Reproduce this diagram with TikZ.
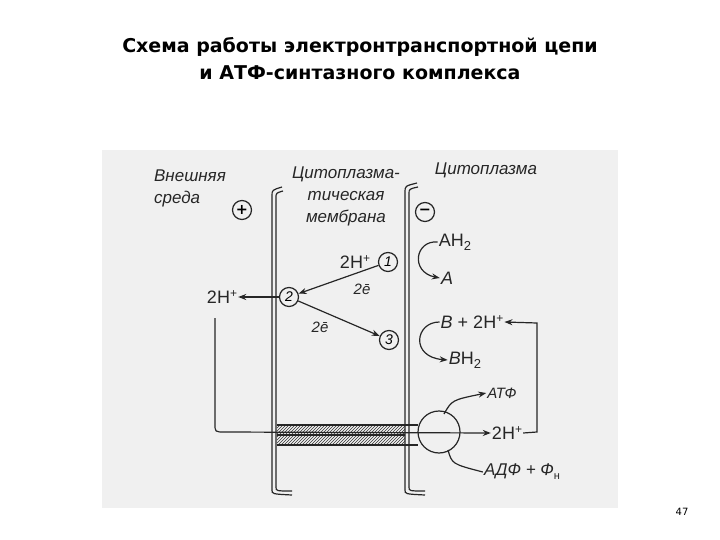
\documentclass[tikz,border=0pt]{standalone}
\usepackage{fontspec}
\setmainfont{DejaVu Sans}
\newfontfamily\lbl{Liberation Sans}
\usetikzlibrary{arrows.meta,patterns}
\newcommand{\hp}{\raisebox{6pt}{\fontsize{12}{12}\selectfont +}}
\newcommand{\sbt}{\raisebox{-4pt}{\fontsize{13}{13}\selectfont 2}}
\begin{document}
\begin{tikzpicture}[x=1pt,y=-1pt,
  ink/.style={draw=black!85,line width=1.2pt},
  arr/.style={ink,-{Stealth[length=8pt,width=6pt]}},
  lab/.style={font=\lbl\fontsize{17}{22}\selectfont\itshape,text=black!85,inner sep=1pt},
  chem/.style={font=\lbl\fontsize{18}{20}\selectfont,text=black!85,inner sep=1pt},
  ebar/.style={font=\lbl\itshape\fontsize{15}{15}\selectfont,text=black!85,inner sep=1pt},
  num/.style={circle,ink,minimum size=19pt,inner sep=0pt,font=\lbl\itshape\fontsize{14}{14}\selectfont}]
\useasboundingbox (0,0) rectangle (720,540);
\fill[white] (0,0) rectangle (720,540);
\fill[black!6] (102,150) rectangle (618,508);
\node[font=\bfseries\fontsize{19}{27}\selectfont,align=center] (title) at (360,59)
 {Схема работы электронтранспортной цепи\\и АТФ-синтазного комплекса};
\node[font=\fontsize{10}{10}\selectfont] (pg) at (682,512) {47};
% labels
\node[lab,align=left] (ext) at (190,188) {Внешняя\\среда};
\node[lab,align=center] (memb) at (346,196) {Цитоплазма-\\тическая\\мембрана};
\node[lab] (cyt) at (486,170) {Цитоплазма};
\node[circle,ink,minimum size=19pt,inner sep=0pt,font=\bfseries\Large] (plus) at (242,210) {+};
\node[circle,ink,minimum size=19pt,inner sep=0pt,font=\bfseries\Large] (minus) at (425,212) {−};
% membranes
\draw[ink] (272,490) -- (272,196) .. controls (272,190) .. (282,187);
\draw[ink] (276,487) -- (276,198) .. controls (276,193) .. (283,191);
\draw[ink] (272,490) .. controls (272,494) .. (292,495);
\draw[ink] (276,487) .. controls (276,491) .. (292,491);
\draw[ink] (405,490) -- (405,192) .. controls (405,186) .. (417,183);
\draw[ink] (409,487) -- (409,194) .. controls (409,189) .. (418,187);
\draw[ink] (405,490) .. controls (405,494) .. (425,495);
\draw[ink] (409,487) .. controls (409,491) .. (425,491);
% carriers
\node[num] (n1) at (388,262) {1};
\node[num] (n2) at (289,297) {2};
\node[num] (n3) at (389,340) {3};
\node[chem] (h1) at (355,262) {2H\hp};
\node[ebar] (e1) at (362,289) {2ē};
\node[chem] (h2) at (222,297) {2H\hp};
\node[ebar] (e2) at (320,327) {2ē};
\draw[arr] (n1) -- (n2);
\draw[arr] (n2) -- (h2);
\draw[arr] (n2) -- (n3);
% substrates
\node[chem] (ah2) at (455,242) {AH\sbt};
\node[chem,font=\lbl\itshape\fontsize{18}{20}\selectfont] (a) at (447,278) {A};
\draw[arr] (ah2.west) .. controls (415,240) and (410,272) .. (a.west);
\node[chem] (bh) at (472,322) {\textit{B} + 2H\hp};
\node[chem] (bh2) at (465,360) {\textit{B}H\sbt};
\draw[arr] (bh.west) .. controls (415,322) and (410,357) .. (bh2.west);
% channel
\fill[pattern=north east lines,pattern color=black!80] (277,425) rectangle (405,445);
\draw[ink] (277,425) -- (418,425);
\draw[ink] (277,445) -- (418,445);
\draw[ink] (277,435) -- (405,435);
\node[circle,ink,minimum size=42pt,inner sep=0pt] (atpase) at (439,432) {};
\node[chem] (h3) at (507,433) {2H\hp};
\node[chem,font=\lbl\itshape\fontsize{15}{17}\selectfont] (atp) at (502,393) {АТФ};
\node[chem,font=\lbl\itshape\fontsize{17}{19}\selectfont] (adp) at (522,472) {АДФ + Ф\raisebox{-4pt}{\fontsize{11}{11}\selectfont\upshape н}};
\coordinate (c1) at (444,414);
\coordinate (c2) at (448,450);
\draw[arr] (c1) .. controls (452,400) .. (atp.west);
\draw[ink] (c2) .. controls (452,464) .. (adp.west);
% proton loops
\coordinate (s1) at (215,318);
\draw[arr] (s1) -- (215,424) .. controls (215,432) .. (225,432) -- (h3.west);
\coordinate (r1) at (537,432);
\coordinate (r2) at (537,323);
\draw[arr] (h3.east) -- (r1) -- (r2) -- (bh.east);
\end{tikzpicture}
\end{document}
